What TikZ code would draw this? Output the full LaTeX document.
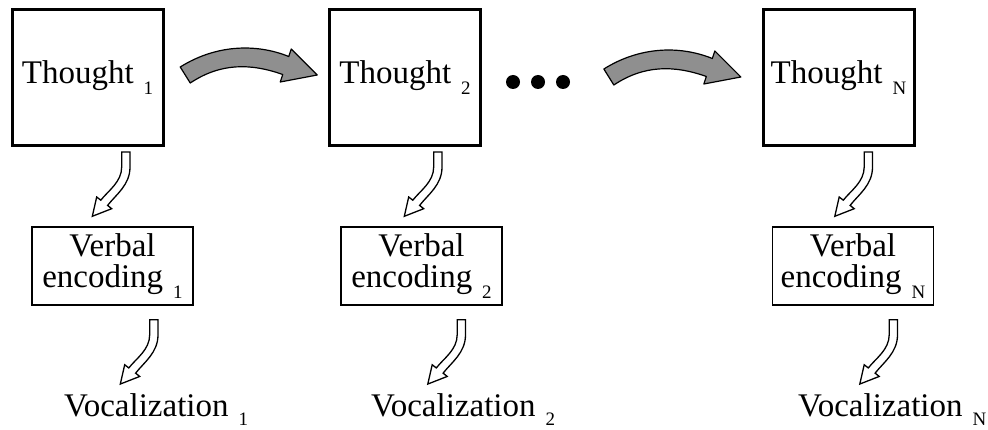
\documentclass[tikz,border=0pt]{standalone}
\usepackage{fontspec}
\setmainfont{Liberation Serif}
\usetikzlibrary{calc}
\newcommand\mysub[2][-11pt]{\hspace{10pt}\raisebox{#1}{\fontsize{19}{19}\selectfont #2}}
\definecolor{arrowgray}{RGB}{143,143,143}
\tikzset{
 thoughtbox/.style={draw, line width=3pt, minimum width=151pt, minimum height=136pt, inner sep=0pt, font=\fontsize{33}{31}\selectfont},
 verbalbox/.style={draw, line width=1.5pt, minimum width=161pt, minimum height=78pt, inner sep=0pt, align=center, font=\fontsize{33}{31}\selectfont},
 vocal/.style={inner sep=0pt, anchor=base west, font=\fontsize{33}{31}\selectfont},
 bigarrow/.style={draw, line width=1.2pt, fill=arrowgray, line join=round},
 hollow/.style={draw, line width=1.3pt, fill=white, line join=miter},
 dotnode/.style={circle, fill, inner sep=0pt, minimum size=14pt},
}
\newcommand\graycurve[1]{\path[bigarrow, shift={#1}] (-68.5,1) .. controls (-33.5,-21) and (6.5,-23) .. (40,-9.5) -- (42.5,-17) -- (68.5,9) -- (31.5,16) -- (34,8.5) .. controls (1.5,-3) and (-28.5,-3) .. (-58.5,17) -- cycle;}
\newcommand\hollowcurve[1]{\path[hollow, shift={#1}] (-4.3,0) -- (4,0) -- (4,15) .. controls (4,33) and (-9.8,42.4) .. (-18.4,53.4) -- (-14.3,56.7) -- (-33.7,64.3) -- (-29.3,45) -- (-25.2,48.2) .. controls (-17.8,38.7) and (-4.3,30) .. (-4.3,15) -- cycle;}
\begin{document}
\begin{tikzpicture}[x=1pt,y=-1pt]
\useasboundingbox (0,0) rectangle (988,430);
% thought boxes
\node[thoughtbox] (t1) at (87.5,78) {Thought\mysub{1}};
\node[thoughtbox] (t2) at (405,78) {Thought\mysub{2}};
\node[thoughtbox] (tN) at (838.5,78) {Thought\mysub{N}};
% dots
\node[dotnode] (d1) at (513,82) {};
\node[dotnode] (d2) at (538,82) {};
\node[dotnode] (d3) at (563,82) {};
% verbal boxes
\node[verbalbox] (v1) at (112.5,266) {Verbal\\encoding\mysub{1}};
\node[verbalbox] (v2) at (421.5,266) {Verbal\\encoding\mysub{2}};
\node[verbalbox] (vN) at (853,266) {Verbal\\encoding\mysub{N}};
% vocalizations
\node[vocal] (o1) at (64,416) {Vocalization\mysub[-9pt]{1}};
\node[vocal] (o2) at (371,416) {Vocalization\mysub[-9pt]{2}};
\node[vocal] (oN) at (798,416) {Vocalization\mysub[-9pt]{N}};
% gray arrows
\graycurve{($(t1.east)!0.5!(t2.west)+(2.5,-12)$)}
\graycurve{($(d3.east)!0.5!(tN.west)+(6.5,-12)$)}
% hollow arrows
\hollowcurve{($(t1.south)+(38.5,4.5)$)}
\hollowcurve{($(t2.south)+(33,4.5)$)}
\hollowcurve{($(tN.south)+(30,4.5)$)}
\hollowcurve{($(v1.south)+(41.5,14)$)}
\hollowcurve{($(v2.south)+(40,14)$)}
\hollowcurve{($(vN.south)+(40.5,14)$)}
\end{tikzpicture}
\end{document}
